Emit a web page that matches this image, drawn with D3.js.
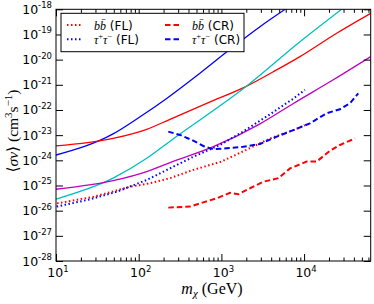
<!DOCTYPE html>
<html><head><meta charset="utf-8">
<script src="https://cdn.jsdelivr.net/npm/d3@7"></script>
<style>body{margin:0;background:#fff}svg{display:block}</style>
</head><body><svg id="c" width="374" height="304"></svg>
<script>
// ---- data (mass in GeV, <sigma v> in cm^3 s^-1) ----
const blueSolidMass = [10, 49, 104, 218, 550, 1390, 2930, 5900];
const blueSolidVal  = [1.62e-24, 1.12e-23, 5.37e-23, 2.88e-22, 2.88e-21, 3.24e-20, 2.04e-19, 1e-18];
const redSolidMass = [10, 49, 125, 239, 708, 2023, 4246, 8913, 24770, 63970];
const redSolidVal  = [3.72e-24, 7.41e-24, 1.70e-23, 4.27e-23, 2.0e-22, 8.91e-22, 3.31e-21, 1.32e-20, 1.12e-19, 6.92e-19];
const cyanMass = [10, 49, 125, 251, 2023, 8913, 28440];
const cyanVal  = [2.88e-26, 1.95e-25, 1.20e-24, 6.46e-24, 8.91e-22, 5.13e-20, 1e-18];
const magentaMass = [10, 49, 125, 239, 800, 2931, 7430, 22540, 63970];
const magentaVal  = [7.08e-26, 1.55e-25, 3.55e-25, 8.13e-25, 3.47e-24, 2.82e-23, 1.82e-22, 1.58e-21, 1.32e-20];
const tauFLMass = [10.2, 25.8, 54.2, 125, 239, 457, 962, 1841, 3873, 7413, 10230];
const tauFLVal  = [1.45e-26, 2.82e-26, 5.62e-26, 1.66e-25, 4.79e-25, 1.38e-24, 4.07e-24, 1.41e-23, 6.76e-23, 2.82e-22, 6.31e-22];
const bbFLMass = [10.3, 28.3, 78.5, 137, 239, 457, 1000, 1841, 3873, 7413, 10230];
const bbFLVal  = [1.95e-26, 3.55e-26, 8.91e-26, 1.23e-25, 1.95e-25, 4.17e-25, 8.91e-25, 2.29e-24, 7.41e-24, 1.58e-23, 2.51e-23];
const tauCRMass = [228, 316, 457, 604, 798, 1159, 1841, 2931, 4667, 7413, 11780, 18750, 27160, 35890, 45190];
const tauCRVal  = [1.38e-23, 1.02e-23, 6.03e-24, 3.72e-24, 2.75e-24, 3.02e-24, 3.47e-24, 4.47e-24, 8.71e-24, 1.58e-23, 2.95e-23, 7.41e-23, 1.07e-22, 1.86e-22, 4.57e-22];
const bbCRMass = [228, 417, 604, 877, 1271, 1600, 2218, 3214, 4875, 6761, 10740, 14190, 20560, 27160, 41210];
const bbCRVal  = [1.32e-26, 1.45e-26, 2.14e-26, 3.09e-26, 5.13e-26, 4.47e-26, 7.76e-26, 1.41e-25, 1.95e-25, 4.79e-25, 8.91e-25, 8.91e-25, 2.40e-24, 4.07e-24, 7.41e-24];
const xTickExp = [1, 2, 3, 4];
const yTickExp = [-28, -27, -26, -25, -24, -23, -22, -21, -20, -19, -18];
const xDomain = [10, 63900];
const yDomain = [1e-28, 1e-18];

// ---- layout ----
const W = 374, H = 304;
const m = {l: 56, r: 3.3, t: 9.3, b: 43};
const svg = d3.select('#c');
const x = d3.scaleLog().domain(xDomain).range([m.l, W - m.r]);
const y = d3.scaleLog().domain(yDomain).range([H - m.b, m.t]);

svg.append('defs').append('clipPath').attr('id', 'clip')
  .append('rect').attr('x', m.l).attr('y', m.t).attr('width', W - m.r - m.l).attr('height', H - m.b - m.t);

const zip = (a, b) => a.map((v, i) => [v, b[i]]);
const lineS = d3.line().x(d => x(d[0])).y(d => y(d[1])).curve(d3.curveMonotoneX);
const lineL = d3.line().x(d => x(d[0])).y(d => y(d[1]));
const plot = svg.append('g').attr('clip-path', 'url(#clip)');

const series = [
  {d: zip(blueSolidMass, blueSolidVal), c: '#0000ff', w: 1.3, dash: null, s: lineS},
  {d: zip(redSolidMass, redSolidVal), c: '#ff0000', w: 1.3, dash: null, s: lineS},
  {d: zip(cyanMass, cyanVal), c: '#00bfbf', w: 1.3, dash: null, s: lineS},
  {d: zip(magentaMass, magentaVal), c: '#bf00bf', w: 1.3, dash: null, s: lineS},
  {d: zip(bbFLMass, bbFLVal), c: '#ff0000', w: 2, dash: '1.5,2.5', s: lineL},
  {d: zip(tauFLMass, tauFLVal), c: '#0000ff', w: 2, dash: '1.5,2.5', s: lineL},
  {d: zip(bbCRMass, bbCRVal), c: '#ff0000', w: 2, dash: '5.5,3', s: lineL},
  {d: zip(tauCRMass, tauCRVal), c: '#0000ff', w: 2, dash: '5.5,3', s: lineL},
];
series.forEach(s => {
  plot.append('path').attr('d', s.s(s.d)).attr('fill', 'none')
    .attr('stroke', s.c).attr('stroke-width', s.w)
    .attr('stroke-dasharray', s.dash);
});

// ---- axes (ticks inward on all sides) ----
const xMajor = xTickExp.map(e => Math.pow(10, e));
const xMinor = [];
for (let e = 1; e <= 4; e++) for (let k = 2; k <= 9; k++) { const v = k * Math.pow(10, e); if (v <= xDomain[1]) xMinor.push(v); }
const yMajor = yTickExp.map(e => Math.pow(10, e));
const axStyle = g => { g.select('.domain').remove(); g.selectAll('line').attr('stroke', '#000').attr('stroke-width', 1); g.selectAll('text').remove(); };
svg.append('g').attr('transform', `translate(0,${H - m.b})`).call(d3.axisBottom(x).tickValues(xMajor).tickSize(-7)).call(axStyle);
svg.append('g').attr('transform', `translate(0,${H - m.b})`).call(d3.axisBottom(x).tickValues(xMinor).tickSize(-3.5)).call(axStyle);
svg.append('g').attr('transform', `translate(0,${m.t})`).call(d3.axisTop(x).tickValues(xMajor).tickSize(-7)).call(axStyle);
svg.append('g').attr('transform', `translate(0,${m.t})`).call(d3.axisTop(x).tickValues(xMinor).tickSize(-3.5)).call(axStyle);
svg.append('g').attr('transform', `translate(${m.l},0)`).call(d3.axisLeft(y).tickValues(yMajor).tickSize(-7)).call(axStyle);
svg.append('g').attr('transform', `translate(${W - m.r},0)`).call(d3.axisRight(y).tickValues(yMajor).tickSize(-7)).call(axStyle);
svg.append('rect').attr('x', m.l).attr('y', m.t).attr('width', W - m.r - m.l).attr('height', H - m.b - m.t)
  .attr('fill', 'none').attr('stroke', '#000').attr('stroke-width', 1);

// tick labels
const sans = 'DejaVu Sans, sans-serif';
yTickExp.forEach((e, i) => {
  const t = svg.append('text').attr('x', m.l - 4).attr('y', y(yMajor[i]) + 4.5)
    .attr('text-anchor', 'end').attr('font-family', sans).attr('font-size', 12.5).attr('fill', '#000');
  t.append('tspan').text('10');
  t.append('tspan').attr('dy', -5.5).attr('font-size', 8.5).text(String(e));
});
xTickExp.forEach((e, i) => {
  const t = svg.append('text').attr('x', x(xMajor[i]) + 2).attr('y', H - m.b + 16)
    .attr('text-anchor', 'middle').attr('font-family', sans).attr('font-size', 12.5).attr('fill', '#000');
  t.append('tspan').text('10');
  t.append('tspan').attr('dy', -5.5).attr('font-size', 8.5).text(String(e));
});

// axis titles
const serif = 'Liberation Serif, DejaVu Serif, serif';
const xl = svg.append('text').attr('x', 212).attr('y', 294)
  .attr('text-anchor', 'middle').attr('font-family', serif).attr('font-size', 16).attr('fill', '#000');
xl.append('tspan').attr('font-style', 'italic').text('m');
xl.append('tspan').attr('font-style', 'italic').attr('font-size', 11).attr('dy', 3).text('χ');
xl.append('tspan').attr('dy', -3).text(' (GeV)');

const yl = svg.append('text').attr('transform', `translate(18,131) rotate(-90)`)
  .attr('text-anchor', 'middle').attr('font-family', serif).attr('font-size', 15.5).attr('fill', '#000');
yl.append('tspan').text('⟨');
yl.append('tspan').attr('font-style', 'italic').text('σv');
yl.append('tspan').text('⟩ (cm');
yl.append('tspan').attr('font-size', 11).attr('dy', -6).text('3');
yl.append('tspan').attr('dy', 6).text('s');
yl.append('tspan').attr('font-size', 11).attr('dy', -6).text('−1');
yl.append('tspan').attr('dy', 6).text(')');

// ---- legend ----
const lg = svg.append('g');
lg.append('rect').attr('x', 61).attr('y', 13.3).attr('width', 183).attr('height', 38.4)
  .attr('fill', '#fff').attr('stroke', '#000').attr('stroke-width', 1);
const legendItems = [
  {col: 0, row: 0, c: '#ff0000', dash: '1.5,2.5', lab: 'bb', suf: ' (FL)'},
  {col: 0, row: 1, c: '#0000ff', dash: '1.5,2.5', lab: 'tau', suf: ' (FL)'},
  {col: 1, row: 0, c: '#ff0000', dash: '5.5,3', lab: 'bb', suf: ' (CR)'},
  {col: 1, row: 1, c: '#0000ff', dash: '5.5,3', lab: 'tau', suf: ' (CR)'},
];
legendItems.forEach(it => {
  const x0 = it.col ? 165 : 67, yy = it.row ? 39.3 : 25;
  lg.append('line').attr('x1', x0).attr('x2', x0 + 14).attr('y1', yy).attr('y2', yy)
    .attr('stroke', it.c).attr('stroke-width', 2).attr('stroke-dasharray', it.dash);
  const t = lg.append('text').attr('x', x0 + 27).attr('y', yy + 4.5).attr('font-size', 12).attr('fill', '#000');
  if (it.lab === 'bb') {
    t.append('tspan').attr('font-family', serif).attr('font-style', 'italic').text('bb\u0304');
  } else {
    t.append('tspan').attr('font-family', serif).attr('font-style', 'italic').text('τ');
    t.append('tspan').attr('font-family', serif).attr('font-size', 8.5).attr('dy', -4.5).text('+');
    t.append('tspan').attr('font-family', serif).attr('font-style', 'italic').attr('dy', 4.5).text('τ');
    t.append('tspan').attr('font-family', serif).attr('font-size', 8.5).attr('dy', -4.5).text('−');
  }
  t.append('tspan').attr('font-family', sans).attr('dy', it.lab === 'bb' ? 0 : 4.5).text(it.suf);
});
</script></body></html>
